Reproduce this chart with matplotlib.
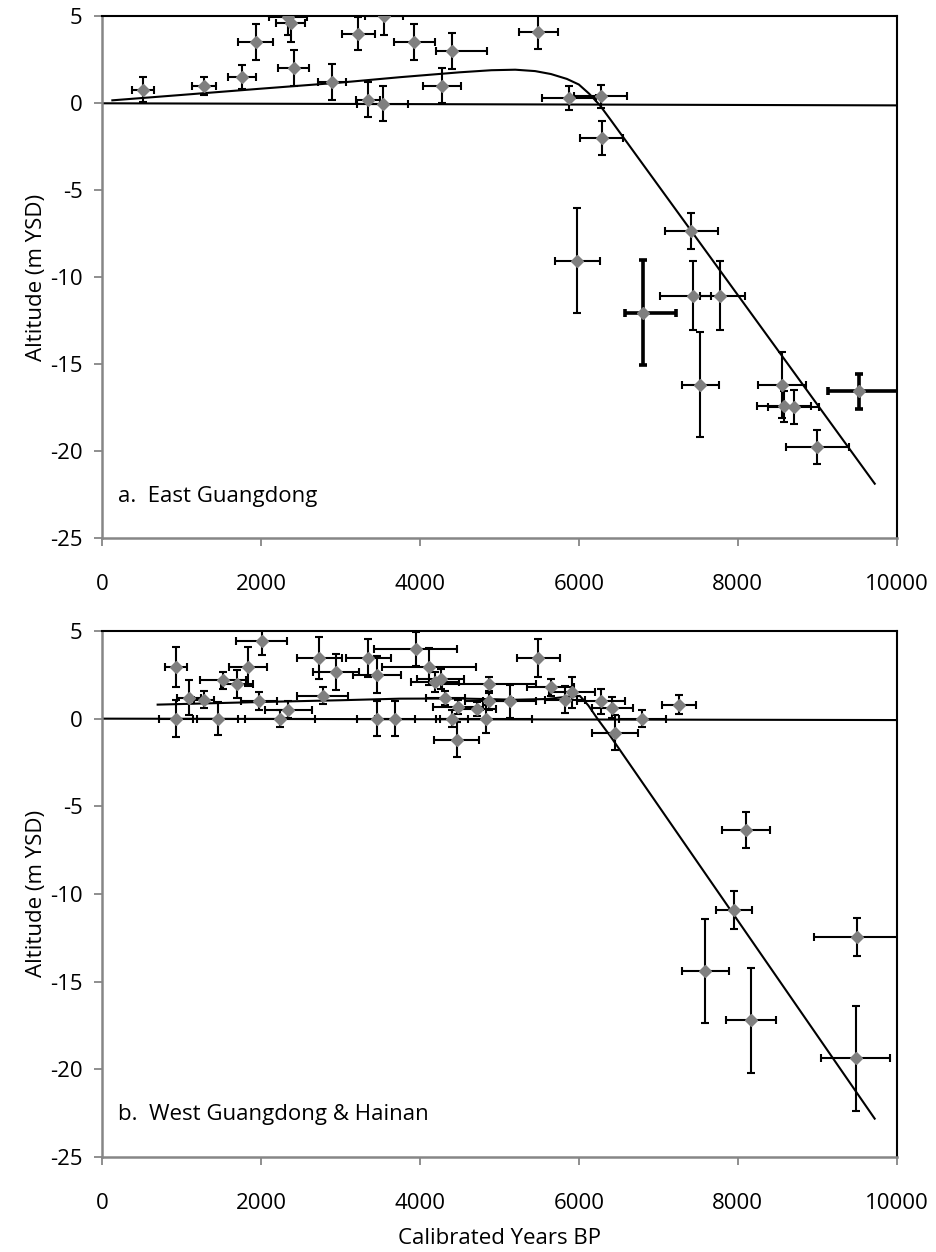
import matplotlib
matplotlib.use("Agg")
import matplotlib.pyplot as plt

plt.rcParams['font.family'] = ['Open Sans', 'DejaVu Sans']
plt.rcParams['axes.unicode_minus'] = False

# ---- East Guangdong (panel a) ----
ea_age = [520, 1283, 1757, 1933, 2335, 2373, 2415, 2897, 3224, 3547,
          3342, 3531, 3929, 4407, 4281, 5488, 5878, 6273, 6289, 5983,
          7417, 6809, 7438, 7782, 7530, 8557, 8582, 8704, 9002, 9526]
ea_alt = [0.79, 1.0, 1.51, 3.52, 4.95, 4.6, 2.03, 1.22, 4.0, 5.0,
          0.21, -0.02, 3.52, 3.0, 1.0, 4.1, 0.31, 0.40, -1.99, -9.04,
          -7.34, -12.03, -11.05, -11.05, -16.17, -16.17, -17.41, -17.45, -19.75, -16.55]
ea_age_lo = [140, 153, 176, 224, 240, 178, 195, 176, 210, 235,
             150, 320, 256, 210, 236, 247, 340, 335, 272, 285,
             335, 230, 419, 260, 235, 308, 335, 319, 398, 390]
ea_age_hi = [140, 153, 176, 224, 240, 178, 195, 176, 210, 235,
             150, 320, 256, 432, 236, 247, 340, 335, 272, 285,
             335, 411, 230, 306, 235, 308, 335, 319, 398, 600]
ea_alt_err = [0.7, 0.5, 0.68, 1.03, 1.0, 1.09, 1.03, 1.03, 0.96, 1.05,
              1.0, 1.0, 1.03, 1.05, 1.0, 0.96, 0.67, 0.65, 1.0, 3.0,
              1.02, 3.0, 2.0, 2.0, 3.0, 1.9, 0.9, 0.98, 1.0, 1.0]
ea_thick = [21, 29]

ea_fit_age = [130, 1000, 2000, 3000, 3750, 4500, 4900, 5200, 5450, 5650,
              5850, 6000, 6130, 6264, 6400, 9724]
ea_fit_alt = [0.17, 0.48, 0.84, 1.19, 1.50, 1.78, 1.90, 1.93, 1.85, 1.68,
              1.40, 1.08, 0.55, -0.11, -0.95, -21.86]
ea_zero_age = [0, 10000]
ea_zero_alt = [0, -0.12]

# ---- West Guangdong & Hainan (panel b) ----
wg_age = [931, 931, 1098, 1283, 1455, 1526, 1702, 1840, 2008, 1975,
          2239, 2344, 2733, 2776, 2943, 3350, 3455, 3463, 3686, 3946,
          4113, 4189, 4260, 4322, 4481, 4407, 4461, 4713, 4830, 4868,
          4868, 5132, 5488, 5644, 5824, 5916, 6285, 6423, 6453, 6801,
          7262, 8109, 7954, 7594, 8164, 9501, 9484]
wg_alt = [2.97, 0, 1.18, 1.08, 0, 2.18, 1.97, 2.97, 4.45, 1.02,
          0, 0.51, 3.45, 1.31, 2.65, 3.45, 2.5, 0, 0, 3.98,
          2.97, 2.08, 2.27, 1.18, 0.66, 0, -1.19, 0.57, 0, 1.97,
          0.98, 0.98, 3.45, 1.78, 1.08, 1.5, 0.98, 0.61, -0.81, 0,
          0.8, -6.36, -10.91, -14.39, -17.2, -12.46, -19.38]
wg_age_lo = [136, 214, 150, 126, 256, 289, 200, 237, 325, 230,
             436, 293, 285, 321, 293, 283, 302, 250, 250, 522,
             587, 298, 298, 250, 314, 200, 281, 250, 580, 595,
             300, 335, 272, 300, 250, 293, 302, 258, 293, 293,
             211, 302, 230, 293, 314, 541, 436]
wg_age_hi = [136, 214, 150, 126, 256, 289, 200, 237, 325, 230,
             436, 293, 285, 321, 293, 283, 302, 250, 250, 522,
             587, 298, 298, 250, 314, 200, 281, 250, 580, 595,
             300, 335, 272, 300, 250, 293, 302, 258, 293, 293,
             211, 302, 230, 293, 314, 700, 436]
wg_alt_err = [1.14, 1.04, 1.0, 0.5, 0.95, 0.47, 0.8, 1.1, 0.8, 0.5,
              0.5, 0.5, 1.2, 0.48, 1.04, 1.1, 1.06, 1.0, 1.0, 0.95,
              1.05, 0.57, 0.57, 0.38, 0.42, 0.48, 1.0, 0.4, 0.8, 0.42,
              0.5, 0.95, 1.08, 0.5, 0.76, 0.9, 0.7, 0.6, 1.0, 0.5,
              0.53, 1.02, 1.08, 2.98, 3.0, 1.08, 3.0]

wg_fit_age = [700, 2000, 3000, 3750, 4500, 5200, 5600, 5850, 6013, 6120,
              6243, 6400, 9723]
wg_fit_alt = [0.80, 0.95, 1.05, 1.14, 1.15, 1.08, 1.12, 1.25, 1.30, 0.75,
              -0.06, -1.02, -22.82]
wg_zero_age = [0, 10000]
wg_zero_alt = [0, -0.08]

x_ticks = [0, 2000, 4000, 6000, 8000, 10000]
y_ticks = [5, 0, -5, -10, -15, -20, -25]

AX_GRAY = '#868686'
MARK_GRAY = '#7f7f7f'


def draw_panel(ax, age, alt, age_lo, age_hi, alt_err, fit_age, fit_alt,
               zero_age, zero_alt, label, thick=()):
    ax.plot(zero_age, zero_alt, color='black', lw=1.5, zorder=2)
    ax.plot(fit_age, fit_alt, color='black', lw=1.5, zorder=2)
    ax.errorbar(age, alt, xerr=[age_lo, age_hi], yerr=alt_err, fmt='none',
                ecolor='black', elinewidth=1.5, capsize=3.2, capthick=1.5, zorder=3)
    for i in thick:
        ax.errorbar([age[i]], [alt[i]], xerr=[[age_lo[i]], [age_hi[i]]],
                    yerr=[alt_err[i]], fmt='none', ecolor='black',
                    elinewidth=2.6, capsize=3.2, capthick=2.6, zorder=3)
    ax.plot(age, alt, 'D', color=MARK_GRAY, markersize=6.5, mec=MARK_GRAY, zorder=4)

    ax.set_xlim(0, 10000)
    ax.set_ylim(-25, 5)
    ax.set_xticks(x_ticks)
    ax.set_yticks(y_ticks)
    ax.tick_params(axis='both', direction='out', length=6, width=1.3,
                   color=AX_GRAY, labelsize=16)
    ax.tick_params(axis='x', pad=20)
    ax.tick_params(axis='y', pad=8)
    for side in ['left', 'bottom']:
        ax.spines[side].set_color(AX_GRAY)
        ax.spines[side].set_linewidth(1.8)
    for side in ['top', 'right']:
        ax.spines[side].set_color('black')
        ax.spines[side].set_linewidth(1.5)
    ax.set_ylabel('Altitude (m YSD)', fontsize=16, labelpad=2)
    ax.text(0.02, 0.08, label, transform=ax.transAxes, fontsize=16,
            ha='left', va='center')


fig = plt.figure(figsize=(9.36, 12.52), dpi=100)
ax1 = fig.add_axes([0.109, 0.570, 0.849, 0.417])
ax2 = fig.add_axes([0.109, 0.076, 0.849, 0.420])

draw_panel(ax1, ea_age, ea_alt, ea_age_lo, ea_age_hi, ea_alt_err,
           ea_fit_age, ea_fit_alt, ea_zero_age, ea_zero_alt,
           'a.  East Guangdong', thick=ea_thick)
draw_panel(ax2, wg_age, wg_alt, wg_age_lo, wg_age_hi, wg_alt_err,
           wg_fit_age, wg_fit_alt, wg_zero_age, wg_zero_alt,
           'b.  West Guangdong & Hainan')
ax2.set_xlabel('Calibrated Years BP', fontsize=16, labelpad=10)

fig.savefig('out.png', dpi=100)
